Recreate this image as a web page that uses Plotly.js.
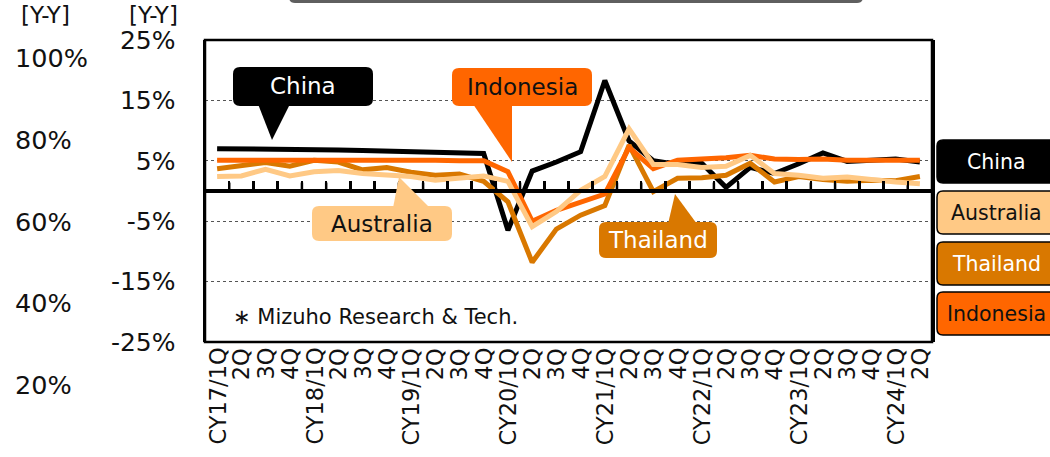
<!DOCTYPE html>
<html>
<head>
<meta charset="utf-8">
<script src="https://cdn.plot.ly/plotly-3.0.1.min.js"></script>
<style>html,body{margin:0;padding:0;background:#fff;}#chart{width:1050px;height:457px;}</style>
</head>
<body>
<div id="chart"></div>
<script>
// ---- data ----
const quarters = ["17Q1","17Q2","17Q3","17Q4","18Q1","18Q2","18Q3","18Q4","19Q1","19Q2","19Q3","19Q4",
  "20Q1","20Q2","20Q3","20Q4","21Q1","21Q2","21Q3","21Q4","22Q1","22Q2","22Q3","22Q4",
  "23Q1","23Q2","23Q3","23Q4","24Q1","24Q2"];
const tickLabels = ["CY17/1Q","2Q","3Q","4Q","CY18/1Q","2Q","3Q","4Q","CY19/1Q","2Q","3Q","4Q",
  "CY20/1Q","2Q","3Q","4Q","CY21/1Q","2Q","3Q","4Q","CY22/1Q","2Q","3Q","4Q",
  "CY23/1Q","2Q","3Q","4Q","CY24/1Q","2Q"];
const china     = [7.0,7.0,6.9,6.9,6.9,6.8,6.7,6.6,6.5,6.4,6.3,6.2,-6.5,3.3,4.8,6.5,18.3,8.3,5.0,4.4,4.6,0.6,3.9,2.9,4.5,6.3,4.9,5.2,5.3,4.8];
const australia = [2.4,2.5,3.6,2.5,3.2,3.4,2.9,2.7,2.4,1.8,2.1,2.5,1.6,-5.9,-3.4,0.1,2.4,10.3,4.4,4.4,3.9,4.1,5.9,2.9,2.6,2.1,2.3,1.8,1.5,1.2];
const thailand  = [3.7,4.2,4.7,4.1,5.1,4.8,3.5,3.9,3.1,2.6,2.8,1.6,-1.8,-11.8,-6.3,-4.0,-2.4,7.6,-0.1,2.1,2.2,2.6,4.6,1.5,2.4,1.9,1.6,1.8,1.7,2.4];
const indonesia = [5.1,5.1,5.1,5.2,5.2,5.3,5.2,5.2,5.1,5.1,5.0,5.0,3.2,-5.0,-3.2,-1.9,-0.5,7.2,3.7,5.1,5.2,5.5,5.9,5.3,5.2,5.3,5.1,5.1,5.2,5.1];
const yTicks = [-25,-15,-5,5,15,25];
const yTickLabels = ["-25%","-15%","-5%","5%","15%","25%"];
const secLabels = ["100%","80%","60%","40%","20%"];
const seriesNames = ["China","Australia","Thailand","Indonesia"];

// ---- styles ----
const C = {China:"#000000", Australia:"#FFC985", Thailand:"#D97800", Indonesia:"#FF6600"};
const FONT = "DejaVu Sans, Verdana, sans-serif";
const L = 205, R = 932, T = 40, B = 342, W = R - L, H = B - T;
const X = px => (px - L) / W;
const Y = py => (B - py) / H;
function rr(x0, y0, x1, y1, r) {
  const a = X(x0), b = X(x1), t = Y(y0), bo = Y(y1), rx = r / W, ry = r / H;
  return `M${a+rx},${t} L${b-rx},${t} Q${b},${t} ${b},${t-ry} L${b},${bo+ry} Q${b},${bo} ${b-rx},${bo} L${a+rx},${bo} Q${a},${bo} ${a},${bo+ry} L${a},${t-ry} Q${a},${t} ${a+rx},${t} Z`;
}
function tri(p) { return "M" + p.map(q => X(q[0]) + "," + Y(q[1])).join(" L") + " Z"; }

const line = (name, y) => ({x: quarters, y: y, name: name, type: "scatter", mode: "lines",
  line: {color: C[name], width: 5}, hoverinfo: "skip"});

const traces = [
  line("China", china),
  line("Thailand", thailand),
  line("Indonesia", indonesia),
  line("Australia", australia)
];

const shapes = [
  // plot frame
  {type: "rect", xref: "paper", yref: "paper", x0: 0, x1: 1, y0: 0, y1: 1,
   line: {color: "#000", width: 2.5}, fillcolor: "rgba(0,0,0,0)", layer: "above"},
  {type: "path", xref: "paper", yref: "paper", path: rr(289, -20, 863, 3, 6), fillcolor: "#5f5f5f", line: {width: 0}},
  // callouts
  {type: "path", xref: "paper", yref: "paper", path: rr(233, 67, 373, 106, 7), fillcolor: "#000", line: {width: 0}},
  {type: "path", xref: "paper", yref: "paper", path: tri([[258,104],[290,104],[272,140]]), fillcolor: "#000", line: {width: 0}},
  {type: "path", xref: "paper", yref: "paper", path: rr(452, 68, 592, 106, 7), fillcolor: C.Indonesia, line: {width: 0}},
  {type: "path", xref: "paper", yref: "paper", path: tri([[473,104],[512,104],[512,162]]), fillcolor: C.Indonesia, line: {width: 0}},
  {type: "path", xref: "paper", yref: "paper", path: rr(312, 206, 452, 241, 7), fillcolor: C.Australia, line: {width: 0}},
  {type: "path", xref: "paper", yref: "paper", path: tri([[393,208],[430,208],[399,177]]), fillcolor: C.Australia, line: {width: 0}},
  {type: "path", xref: "paper", yref: "paper", path: rr(599, 222, 717, 258, 7), fillcolor: C.Thailand, line: {width: 0}},
  {type: "path", xref: "paper", yref: "paper", path: tri([[668,224],[697,224],[675,194]]), fillcolor: C.Thailand, line: {width: 0}}
];
// quarter-boundary tick marks on the y = 0 axis (category index + 0.5 on the x scale)
for (let i = 0; i < quarters.length - 1; i++) {
  shapes.push({type: "line", xref: "x", yref: "y", x0: i + 0.5, x1: i + 0.5, y0: 0, y1: 1.4,
    line: {color: "#000", width: 2.5}, layer: "below"});
}
// legend boxes
const legTops = [140, 191, 242, 292];
seriesNames.forEach((n, i) => {
  shapes.push({type: "path", xref: "paper", yref: "paper", path: rr(937, legTops[i], 1056, legTops[i] + 43, 6),
    fillcolor: C[n], line: {color: "#000", width: 1.5}});
});

const ann = (text, px, py, size, color, xanchor) => ({text: text, xref: "paper", yref: "paper",
  x: X(px), y: Y(py), xanchor: xanchor || "center", yanchor: "middle", showarrow: false,
  font: {family: FONT, size: size, color: color || "#111"}});

const annotations = [
  ann("[Y-Y]", 45, 15, 23),
  ann("[Y-Y]", 153, 15, 23),
  ann("China", 303, 86, 23, "#fff"),
  ann("Indonesia", 522, 87, 23, "#111"),
  ann("Australia", 382, 223.5, 23, "#111"),
  ann("Thailand", 658, 240, 23, "#fff"),
  ann("∗ Mizuho Research &amp; Tech.", 231, 317, 21, "#111", "left")
];
secLabels.forEach((s, i) => annotations.push(ann(s, 13, 58 + i * 81.75, 25.5, "#111", "left")));
const legTextColor = {China: "#fff", Australia: "#111", Thailand: "#fff", Indonesia: "#111"};
seriesNames.forEach((n, i) => annotations.push(ann(n, 996, legTops[i] + 21.5, 20.5, legTextColor[n])));
// category labels below the plot, placed on the x scale
quarters.forEach((q, i) => annotations.push({text: tickLabels[i], xref: "x", x: q, yref: "paper", y: 0,
  yshift: -4, xanchor: "center", yanchor: "top", textangle: -90, showarrow: false,
  font: {family: FONT, size: 22.5, color: "#111"}}));

const layout = {
  width: 1050, height: 457,
  margin: {l: L, r: 1050 - R, t: T, b: 457 - B, pad: 0},
  paper_bgcolor: "#fff", plot_bgcolor: "#fff",
  showlegend: false,
  font: {family: FONT, color: "#111"},
  xaxis: {type: "category", categoryorder: "array", categoryarray: quarters,
    range: [-0.5, quarters.length - 0.5], tickmode: "array", tickvals: quarters,
    tickson: "boundaries", ticks: "inside", ticklen: 8, tickwidth: 2.5, tickcolor: "#000",
    showticklabels: false, anchor: "free", position: 0.5,
    showline: true, linecolor: "#000", linewidth: 4, showgrid: false, zeroline: false,
    automargin: false, fixedrange: true},
  yaxis: {range: [-25, 25], tickmode: "array", tickvals: yTicks, ticktext: yTickLabels,
    tickfont: {family: FONT, size: 25, color: "#111"},
    showgrid: true, gridcolor: "#555", griddash: "dot", gridwidth: 1,
    zeroline: true, zerolinecolor: "#000", zerolinewidth: 4,
    showline: true, mirror: true, linecolor: "#000", linewidth: 2.5,
    ticks: "outside", ticklen: 22, tickcolor: "rgba(0,0,0,0)", automargin: false, fixedrange: true},
  shapes: shapes,
  annotations: annotations
};

Plotly.newPlot("chart", traces, layout, {staticPlot: true, displayModeBar: false});
</script>
</body>
</html>
